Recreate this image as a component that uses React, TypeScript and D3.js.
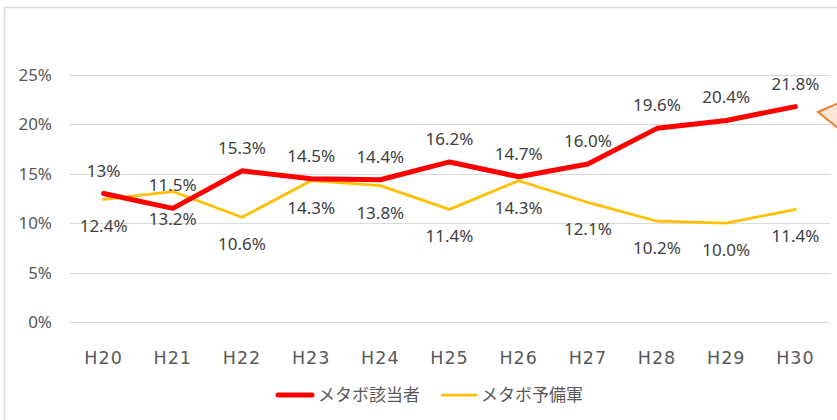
import React from "react";
import * as d3 from "d3";

const categories = ["H20", "H21", "H22", "H23", "H24", "H25", "H26", "H27", "H28", "H29", "H30"];
const gaitou = [13.0, 11.5, 15.3, 14.5, 14.4, 16.2, 14.7, 16.0, 19.6, 20.4, 21.8];
const gaitouLabels = ["13%", "11.5%", "15.3%", "14.5%", "14.4%", "16.2%", "14.7%", "16.0%", "19.6%", "20.4%", "21.8%"];
const yobigun = [12.4, 13.2, 10.6, 14.3, 13.8, 11.4, 14.3, 12.1, 10.2, 10.0, 11.4];
const yobigunLabels = ["12.4%", "13.2%", "10.6%", "14.3%", "13.8%", "11.4%", "14.3%", "12.1%", "10.2%", "10.0%", "11.4%"];
const yTicks = [0, 5, 10, 15, 20, 25];
const seriesNames = ["メタボ該当者", "メタボ予備軍"];

const W = 837;
const H = 420;
const FONT = "'Noto Sans', sans-serif";
const XFONT = "'DejaVu Sans', sans-serif";
const CJK = "'Noto Sans CJK JP', sans-serif";

export default function App() {
  const x = d3.scaleBand<string>().domain(categories).range([69, 830]).padding(0);
  const y = d3.scaleLinear().domain([0, 25]).range([322, 75]);
  const cx = (c: string) => (x(c) as number) + x.bandwidth() / 2;

  const line = d3
    .line<number>()
    .x((_, i) => cx(categories[i]))
    .y((v) => y(v));

  return (
    <svg
      width={W}
      height={H}
      style={{ position: "absolute", left: 0, top: 0, background: "#fff" }}
    >
      <rect x={0} y={0} width={W} height={H} fill="#fff" />
      <rect x={4.5} y={7.5} width={W + 20} height={H + 20} fill="none" stroke="#d9d9d9" strokeWidth={1.5} />
      {yTicks.map((t) => (
        <line key={t} x1={69} x2={830} y1={Math.round(y(t)) + 0.5} y2={Math.round(y(t)) + 0.5} stroke="#d9d9d9" strokeWidth={1} />
      ))}
      {yTicks.map((t) => (
        <text key={"yl" + t} x={52} y={y(t)} dy="0.35em" textAnchor="end" fontFamily={FONT} fontSize={17} fill="#595959">
          {t + "%"}
        </text>
      ))}
      {categories.map((c) => (
        <text key={"xl" + c} x={cx(c)} y={358} dy="0.36em" textAnchor="middle" fontFamily={XFONT} fontSize={17.5} letterSpacing={1} fill="#595959">
          {c}
        </text>
      ))}
      <path d={line(yobigun) || ""} fill="none" stroke="#FFC000" strokeWidth={2.75} strokeLinejoin="round" strokeLinecap="round" />
      <path d={line(gaitou) || ""} fill="none" stroke="#FF0000" strokeWidth={5} strokeLinejoin="round" strokeLinecap="round" />
      {gaitou.map((v, i) => (
        <text key={"gl" + i} x={cx(categories[i])} y={y(v) - 23} dy="0.35em" textAnchor="middle" fontFamily={FONT} fontSize={17} fill="#404040">
          {gaitouLabels[i]}
        </text>
      ))}
      {yobigun.map((v, i) => (
        <text key={"yb" + i} x={cx(categories[i])} y={y(v) + 27} dy="0.35em" textAnchor="middle" fontFamily={FONT} fontSize={17} fill="#404040">
          {yobigunLabels[i]}
        </text>
      ))}
      <line x1={278} x2={312} y1={395} y2={395} stroke="#FF0000" strokeWidth={5} strokeLinecap="round" />
      <text x={318} y={395} dy="0.35em" fontFamily={CJK} fontSize={17} fill="#595959">
        {seriesNames[0]}
      </text>
      <line x1={442} x2={476} y1={395} y2={395} stroke="#FFC000" strokeWidth={2.75} strokeLinecap="round" />
      <text x={481} y={395} dy="0.35em" fontFamily={CJK} fontSize={17} fill="#595959">
        {seriesNames[1]}
      </text>
      <polygon points="818,112 848,99 848,136" fill="#FBE5D6" stroke="#ED7D31" strokeWidth={2} strokeLinejoin="miter" />
    </svg>
  );
}
